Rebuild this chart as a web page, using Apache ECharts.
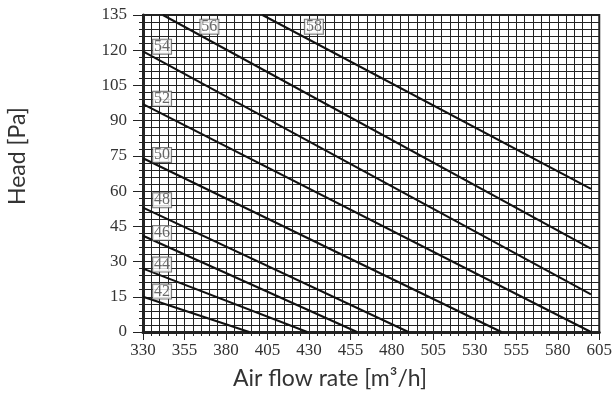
<!DOCTYPE html>
<html>
<head>
<meta charset="utf-8">
<script src="https://cdn.jsdelivr.net/npm/echarts@6/dist/echarts.min.js"></script>
<style>
html,body{margin:0;padding:0;background:#fff;}
#chart{width:615px;height:398px;}
</style>
</head>
<body>
<div id="chart"></div>
<script>
// fan speed curves (flow m3/h, head Pa)
var speeds = ['42', '44', '46', '48', '50', '52', '54', '56', '58'];
var startFlow = [330, 330, 330, 330, 330, 330, 330, 342, 402];
var startHead = [15, 27, 41, 53, 74, 97, 119.5, 135, 135];
var endFlow = [394, 429, 459, 490, 546, 600, 600, 600, 600];
var endHead = [0, 0, 0, 0, 0, 0, 16, 35.5, 61];
// where the boxed speed labels sit
var labelFlow = [341.5, 341.5, 341.5, 341.5, 341.5, 341.5, 341.5, 370, 433];
var labelHead = [17.2, 28.7, 42.2, 56.1, 75.4, 99.3, 121.5, 130, 130];

var flowMin = 330, flowMax = 605, flowStep = 25;
var headMin = 0, headMax = 135, headStep = 15;

var INK = '#222';
var TXT = '#333';

// x axis is shifted by flowMin so ticks are counted from a multiple of 25
var series = [];
for (var i = 0; i < speeds.length; i++) {
    series.push({
        name: speeds[i],
        type: 'line',
        symbol: 'none',
        silent: true,
        lineStyle: {color: '#111', width: 2},
        data: [[startFlow[i] - flowMin, startHead[i]], [endFlow[i] - flowMin, endHead[i]]],
        z: 3
    });
}
var labelData = [];
for (var i = 0; i < speeds.length; i++) {
    labelData.push([labelFlow[i] - flowMin, labelHead[i], speeds[i]]);
}
series.push({
    type: 'scatter',
    symbolSize: 0,
    silent: true,
    data: labelData,
    z: 5,
    label: {
        show: true,
        position: 'inside',
        formatter: function (p) { return p.data[2]; },
        fontFamily: 'Liberation Serif',
        fontSize: 16,
        color: '#444',
        backgroundColor: '#fff',
        borderColor: '#555',
        borderWidth: 1,
        padding: [0, 1, -1, 1],
        lineHeight: 15
    }
});

var chart = echarts.init(document.getElementById('chart'));
chart.setOption({
    animation: false,
    grid: {
        left: 143, top: 15, right: 15, bottom: 66,
        show: true,
        borderColor: INK,
        borderWidth: 2,
        backgroundColor: '#fff'
    },
    xAxis: {
        type: 'value',
        min: 0,
        max: flowMax - flowMin,
        interval: flowStep,
        axisLine: {show: true, onZero: false, lineStyle: {color: INK, width: 3}},
        axisTick: {show: true, length: 8, lineStyle: {color: INK, width: 1}},
        minorTick: {show: true, splitNumber: 5, length: 4, lineStyle: {color: INK, width: 1}},
        splitLine: {show: true, lineStyle: {color: INK, width: 1}},
        minorSplitLine: {show: true, lineStyle: {color: INK, width: 1}},
        axisLabel: {
            color: TXT, fontFamily: 'Liberation Serif', fontSize: 17, margin: 10,
            formatter: function (v) { return String(v + flowMin); }
        }
    },
    yAxis: {
        type: 'value',
        min: headMin,
        max: headMax,
        interval: headStep,
        axisLine: {show: true, onZero: false, lineStyle: {color: INK, width: 3}},
        axisTick: {show: true, length: 10, lineStyle: {color: INK, width: 1}},
        minorTick: {show: true, splitNumber: 5, length: 4, lineStyle: {color: INK, width: 1}},
        splitLine: {show: true, lineStyle: {color: INK, width: 1}},
        minorSplitLine: {show: true, lineStyle: {color: INK, width: 1}},
        axisLabel: {color: TXT, fontFamily: 'Liberation Serif', fontSize: 17, margin: 16}
    },
    graphic: [
        {
            type: 'text',
            left: 233,
            top: 367,
            style: {text: 'Air flow rate [m³/h]', font: '23px Lato', fill: TXT}
        },
        {
            type: 'text',
            x: 6,
            y: 205,
            rotation: Math.PI / 2,
            style: {text: 'Head [Pa]', font: '23px Lato', fill: TXT}
        }
    ],
    series: series
});
</script>
</body>
</html>
